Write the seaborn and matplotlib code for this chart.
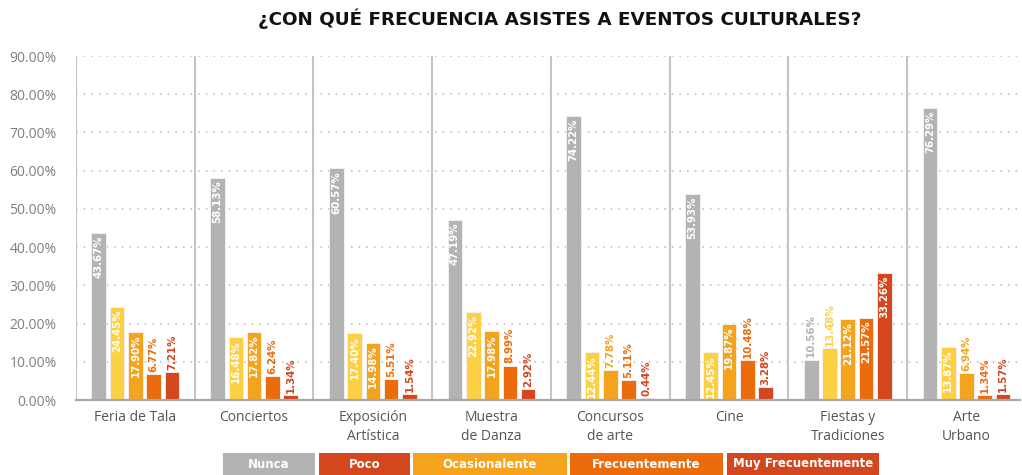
import pandas as pd
import matplotlib
matplotlib.use('Agg')
import matplotlib.pyplot as plt
from matplotlib.patches import Rectangle
import seaborn as sns

# data
categories = ['Feria de Tala', 'Conciertos', 'Exposición\nArtística', 'Muestra\nde Danza',
              'Concursos\nde arte', 'Cine', 'Fiestas y\nTradiciones', 'Arte\nUrbano']
series = ['Nunca', 'Poco', 'Ocasionalente', 'Frecuentemente', 'Muy Frecuentemente']
nunca = [43.67, 58.13, 60.57, 47.19, 74.22, 53.93, 10.56, 76.29]
poco = [24.45, 16.48, 17.40, 22.92, 12.44, 12.45, 13.48, 13.87]
ocasional = [17.90, 17.82, 14.98, 17.98, 7.78, 19.87, 21.12, 6.94]
frecuente = [6.77, 6.24, 5.51, 8.99, 5.11, 10.48, 21.57, 1.34]
muy_frecuente = [7.21, 1.34, 1.54, 2.92, 0.44, 3.28, 33.26, 1.57]
yticks = [0, 10, 20, 30, 40, 50, 60, 70, 80, 90]

bar_colors = ['#b3b3b3', '#fdd043', '#f5a21d', '#ec6c0c', '#d4461d']
legend_colors = ['#b3b3b3', '#d4461d', '#f5a21d', '#ec6c0c', '#d4461d']
# labels drawn above the bar even though it is tall enough
outside_labels = {('Fiestas y\nTradiciones', 'Poco')}

rows = []
for name, vals in zip(series, [nunca, poco, ocasional, frecuente, muy_frecuente]):
    for cat, v in zip(categories, vals):
        rows.append({'categoria': cat, 'serie': name, 'valor': v})
df = pd.DataFrame(rows)

W, H = 1022, 475
fig = plt.figure(figsize=(W / 100, H / 100), dpi=100)
ax = fig.add_axes([76 / W, 1 - 400 / H, 1 - 76 / W - 0.002, (400 - 56) / H])

sns.barplot(data=df, x='categoria', y='valor', hue='serie', hue_order=series,
            order=categories, palette=dict(zip(series, bar_colors)), saturation=1,
            width=0.77, gap=0.2, errorbar=None, legend=False,
            edgecolor='#f4f4f4', linewidth=0.6, ax=ax)

ax.set_xlim(-0.5, len(categories) - 0.55)
ax.set_ylim(0, 90)
ax.set_yticks(yticks)
ax.set_yticklabels([f'{t:.2f}%' for t in yticks], family='Open Sans', fontsize=10, color='#7f7f7f')
ax.set_xticks(range(len(categories)))
ax.set_xticklabels(categories, family='Open Sans', fontsize=10, color='#555555', linespacing=1.35)
ax.tick_params(axis='both', length=0)
ax.tick_params(axis='x', pad=7)
ax.tick_params(axis='y', pad=14)
ax.set_xlabel('')
ax.set_ylabel('')
for s in ['top', 'right', 'left']:
    ax.spines[s].set_visible(False)
ax.spines['bottom'].set_color('#a3a8ad')
ax.spines['bottom'].set_linewidth(1.6)

for t in yticks[1:]:
    ax.axhline(t, color='#b8b8b8', lw=1.1, ls=(0, (1, 4)), zorder=0)
for i in range(len(categories)):
    ax.axvline(i - 0.5, color='#c4c4c4', lw=1.5, zorder=0)

# value labels
for name, color, cont in zip(series, bar_colors, ax.containers):
    for cat, bar in zip(categories, cont):
        h = bar.get_height()
        x = bar.get_x() + bar.get_width() / 2
        txt = f'{h:.2f}%'
        if h >= 12 and (cat, name) not in outside_labels:
            ax.text(x, h - 0.7, txt, rotation=90, ha='center', va='top', color='white',
                    fontsize=8.2, fontweight='bold', family='DejaVu Sans', fontstretch='condensed')
        else:
            ax.text(x, h + 0.6, txt, rotation=90, ha='center', va='bottom', color=color,
                    fontsize=8.2, fontweight='bold', family='DejaVu Sans', fontstretch='condensed')

fig.text(560 / W, 1 - 19 / H, '¿CON QUÉ FRECUENCIA ASISTES A EVENTOS CULTURALES?',
         ha='center', va='center', fontsize=13.2, fontweight='bold', family='DejaVu Sans', color='#111111')

# legend boxes at the bottom
box_x = [(223, 315), (319, 410), (413, 567), (570, 723), (727, 879)]
for name, color, (x0, x1) in zip(series, legend_colors, box_x):
    fig.add_artist(Rectangle((x0 / W, 0), (x1 - x0) / W, 22 / H, transform=fig.transFigure,
                             facecolor=color, edgecolor='none'))
    fig.text((x0 + x1) / 2 / W, 11 / H, name, ha='center', va='center', color='white',
             fontsize=8.5, fontweight='bold', family='DejaVu Sans')

fig.savefig('out.png', dpi=100)
